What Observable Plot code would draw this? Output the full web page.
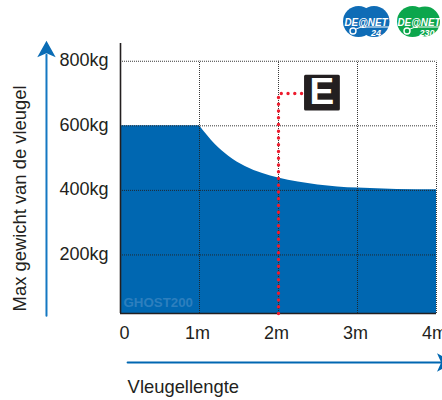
<!DOCTYPE html>
<html>
<head>
<meta charset="utf-8">
<script src="https://cdn.jsdelivr.net/npm/d3@7"></script>
<script src="https://cdn.jsdelivr.net/npm/@observablehq/plot@0.6"></script>
<style>
html,body{margin:0;padding:0;background:#fff;width:442px;height:400px;overflow:hidden}
#wrap{position:relative;width:442px;height:400px}
#logos{position:absolute;left:340px;top:2px}
svg{display:block}
</style>
</head>
<body>
<div id="wrap">
<div id="chart"></div>
<svg id="logos" width="102" height="38" viewBox="0 0 102 38" font-family="Liberation Sans" font-weight="bold" font-style="italic" text-anchor="middle">
  <g fill="#0f6cb6"><circle cx="18.5" cy="19.5" r="15.5"/><circle cx="34" cy="19.5" r="15.5"/></g>
  <text x="26" y="23.5" font-size="11" textLength="43" lengthAdjust="spacingAndGlyphs" fill="#fff">DE@NET</text>
  <path d="M16 27 L24 24 M25 25 L49 25" stroke="#fff" stroke-width="1" fill="none"/>
  <circle cx="13" cy="29" r="3" fill="none" stroke="#fff" stroke-width="1.4"/>
  <text x="36" y="33.5" font-size="9" fill="#fff">24</text>
  <g fill="#0ca64c"><circle cx="72.5" cy="19.5" r="15.5"/><circle cx="85" cy="19.5" r="15"/></g>
  <text x="79" y="23.5" font-size="11" textLength="43" lengthAdjust="spacingAndGlyphs" fill="#fff">DE@NET</text>
  <path d="M70 27 L78 24 M79 25 L100 25" stroke="#fff" stroke-width="1" fill="none"/>
  <circle cx="67" cy="29" r="3" fill="none" stroke="#fff" stroke-width="1.4"/>
  <text x="87" y="33.5" font-size="9" fill="#fff">230</text>
</svg>
</div>
<script>
const flatLength = [0, 1];
const flatWeight = [600, 600];
const curveLength = [1, 1.1, 1.2, 1.37, 1.58, 1.8, 2, 2.5, 3, 3.5, 4];
const curveWeight = [600, 570, 542, 506, 474, 452, 438, 417, 407, 403, 402];
const weightTicks = [200, 400, 600, 800];
const lengthTicks = [1, 2, 3, 4];
const axisFloor = 18.6;
const limitLength = [2, 2, 2.37];
const limitWeight = [axisFloor, 700, 700];

const rows = (xs, ys) => xs.map((x, i) => ({x, y: ys[i]}));
const head = {
  draw(ctx, size) {
    const s = Math.sqrt(size);
    ctx.moveTo(0, -s);
    ctx.lineTo(s, s * 0.8);
    ctx.lineTo(0, s * 0.35);
    ctx.lineTo(-s, s * 0.8);
    ctx.closePath();
  }
};
const font = "Liberation Sans, Arial, sans-serif";
const ink = "#231f20";
const grid = {stroke: "#222", strokeWidth: 1, strokeDasharray: "1 1", strokeOpacity: 0.9};

const chart = Plot.plot({
  width: 442, height: 400,
  marginLeft: 120, marginRight: 6, marginTop: 43, marginBottom: 87,
  style: {fontFamily: font, background: "#fff"},
  x: {domain: [0, 4], range: [120, 436]},
  y: {domain: [axisFloor, 855], range: [313, 43]},
  marks: [
    Plot.areaY(rows(flatLength, flatWeight), {x: "x", y1: axisFloor, y2: "y", fill: "#0067b1"}),
    Plot.areaY(rows(curveLength, curveWeight), {x: "x", y1: axisFloor, y2: "y", fill: "#0067b1", curve: "monotone-x"}),
    Plot.ruleY(weightTicks, {...grid}),
    Plot.ruleX(lengthTicks, {...grid, y1: axisFloor, y2: 800}),
    Plot.ruleX([0], {y1: axisFloor, y2: 855, stroke: ink, strokeWidth: 1.6}),
    Plot.ruleY([axisFloor], {stroke: ink, strokeWidth: 1.6}),
    Plot.axisY({ticks: weightTicks, tickSize: 0, tickPadding: 12, dy: -1, tickFormat: d => d + "kg", fontSize: 18, fill: ink, label: null}),
    Plot.axisX({ticks: lengthTicks, tickSize: 0, tickPadding: 13, dx: -2, tickFormat: d => d + "m", fontSize: 18, fill: ink, label: null}),
    Plot.text(["0"], {x: 0, y: axisFloor, text: d => d, dx: 4, dy: 20, fontSize: 18, fill: ink}),
    Plot.text(["GHOST200"], {x: 0, y: axisFloor, text: d => d, dx: 3, dy: -11, textAnchor: "start", fontSize: 13.3, fontWeight: "bold", fill: "#2d7fbe"}),
    Plot.line(rows(limitLength, limitWeight), {x: "x", y: "y", stroke: "#ed1c2e", strokeWidth: 3.4, strokeLinecap: "round", strokeDasharray: "0 6.75"}),
    Plot.dot(["E"], {x: 2.55, y: 703, symbol: "square", r: 18.5, fill: "#231f20", stroke: "#231f20", strokeWidth: 3, strokeLinejoin: "round"}),
    Plot.text(["E"], {x: 2.55, y: 703, text: d => d, fontSize: 37, fontWeight: "bold", fill: "#fff"}),
    Plot.line(rows([-0.937, -0.937], [12, 820]), {x: "x", y: "y", stroke: "#1478c2", strokeWidth: 2}),
    Plot.dot(["up"], {x: -0.937, y: 835, symbol: head, r: 5.2, fill: "#0a6cb5", stroke: null}),
    Plot.line(rows([0.09, 4.1], [-133, -133]), {x: "x", y: "y", stroke: "#0067b1", strokeWidth: 2}),
    Plot.dot(["right"], {x: 4.1, y: -133, symbol: head, r: 5.2, rotate: 90, fill: "#0067b1", stroke: null}),
    Plot.text(["Vleugellengte"], {x: 0.09, y: -208, text: d => d, textAnchor: "start", fontSize: 18.4, fill: ink}),
    Plot.text(["Max gewicht van de vleugel"], {x: -1.27, y: 375, text: d => d, rotate: -90, fontSize: 18.4, fill: ink})
  ]
});
document.getElementById("chart").appendChild(chart);
</script>
</body>
</html>
